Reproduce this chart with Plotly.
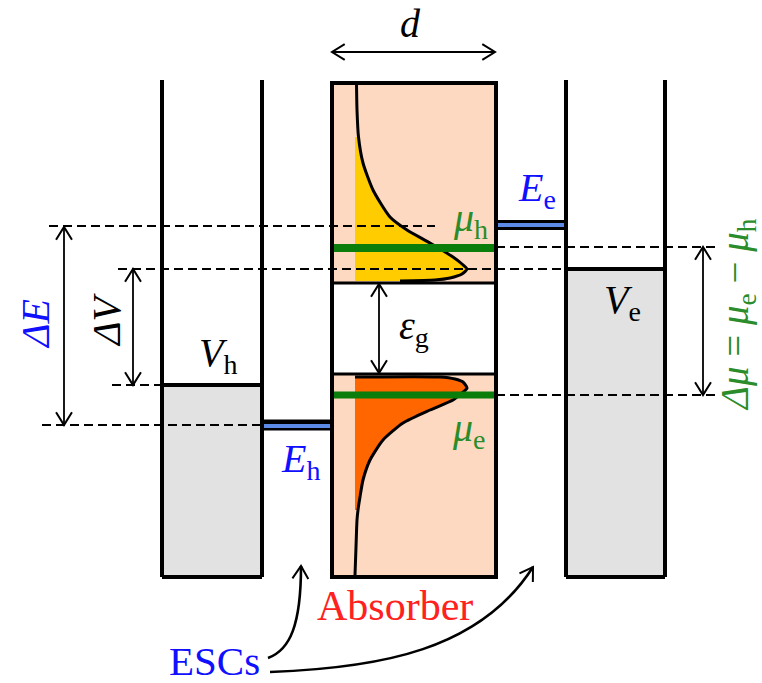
import math
import plotly.graph_objects as go

W, H = 762, 683

# horizontal extents of the three slabs (px)
left_esc = [162, 262]
absorber = [332, 496]
right_esc = [566, 665]
slab_top = 80
slab_bottom = 577
absorber_top = 83
dos_axis_x = 355

# energy levels, drawn downward on screen (px)
E_e = 225
mu_h = 248
V_e = 269
gap_top = 283
gap_bottom = 374
V_h = 385
mu_e = 395
E_h = 425

# hole density of states (upper band of the absorber)
hole_dos_y = [83, 110, 137, 163, 190, 217, 230, 243, 257, 264, 269, 274, 278, 280, 281]
hole_dos_x = [356.5, 357, 358.5, 363, 373, 390, 407, 430, 453, 462, 467, 462, 450, 435, 400]
hole_fill_from = 137

# electron density of states (lower band of the absorber)
elec_dos_y = [377, 377, 379, 382, 388, 393, 400, 410, 423, 440, 460, 480, 497, 510, 520, 547, 575]
elec_dos_x = [355, 440, 455, 463, 467, 462, 453, 430, 403, 383, 370, 363, 360, 358, 357, 356, 355]
elec_fill_to = 510

# colours
PEACH = "#FDD9C1"
GRAY = "#E2E2E2"
YELLOW = "#FFCC00"
ORANGE = "#FF6600"
GREEN_LINE = "#0A7D0A"
GREEN_TEXT = "#2A8C2A"
BAR_BLUE = "#5B8BE6"
TEXT_BLUE = "#1010FF"
RED = "#FF2020"
FONT = "Liberation Serif"

fig = go.Figure()
shapes = []


def rect(x0, x1, y0, y1, color):
    shapes.append(dict(type="rect", x0=x0, x1=x1, y0=y0, y1=y1,
                       fillcolor=color, line=dict(width=0), layer="below"))


def line(x0, y0, x1, y1, width=4, color="black", dash=None):
    ln = dict(width=width, color=color)
    if dash:
        ln["dash"] = dash
    shapes.append(dict(type="line", x0=x0, y0=y0, x1=x1, y1=y1, line=ln))


def chevron(tx, ty, dx, dy, length=15, half=32):
    # open arrowhead with its tip at (tx, ty) pointing along (dx, dy)
    n = math.hypot(dx, dy)
    ux, uy = dx / n, dy / n
    pts = []
    for s in (-1, 1):
        a = math.radians(half) * s
        bx = -(ux * math.cos(a) - uy * math.sin(a))
        by = -(ux * math.sin(a) + uy * math.cos(a))
        pts.append((tx + bx * length, ty + by * length))
    path = f"M {pts[0][0]:.2f},{pts[0][1]:.2f} L {tx:.2f},{ty:.2f} L {pts[1][0]:.2f},{pts[1][1]:.2f}"
    shapes.append(dict(type="path", path=path, line=dict(width=2, color="black")))


def double_arrow(x0, y0, x1, y1):
    line(x0, y0, x1, y1, width=1.8)
    chevron(x0, y0, x0 - x1, y0 - y1)
    chevron(x1, y1, x1 - x0, y1 - y0)


# background fills
rect(absorber[0], absorber[1], absorber_top, slab_bottom, PEACH)
rect(absorber[0], absorber[1], gap_top, gap_bottom, "white")
rect(left_esc[0], left_esc[1], V_h, slab_bottom, GRAY)
rect(right_esc[0], right_esc[1], V_e, slab_bottom, GRAY)

# occupied states
hy = [y for y in hole_dos_y if y >= hole_fill_from]
hx = [x for x, y in zip(hole_dos_x, hole_dos_y) if y >= hole_fill_from]
fig.add_trace(go.Scatter(x=[dos_axis_x] + hx + [dos_axis_x], y=[hole_fill_from] + hy + [hy[-1]],
                         fill="toself", fillcolor=YELLOW, mode="none", hoverinfo="skip"))
ey = [y for y in elec_dos_y if y <= elec_fill_to]
ex = [x for x, y in zip(elec_dos_x, elec_dos_y) if y <= elec_fill_to]
fig.add_trace(go.Scatter(x=[dos_axis_x] + ex + [dos_axis_x], y=[ey[0]] + ey + [elec_fill_to],
                         fill="toself", fillcolor=ORANGE, mode="none", hoverinfo="skip"))

# density-of-states curves
for xs, ys in ((hole_dos_x, hole_dos_y), (elec_dos_x, elec_dos_y)):
    fig.add_trace(go.Scatter(x=xs, y=ys, mode="lines",
                             line=dict(color="black", width=3, shape="spline", smoothing=0.6),
                             hoverinfo="skip"))

# dashed reference levels
DASH = "9px,5px"
line(49, E_e + 1, 435, E_e + 1, width=2, dash=DASH)
line(118, V_e, right_esc[0], V_e, width=2, dash=DASH)
line(absorber[1], mu_h - 1, 717, mu_h - 1, width=2, dash=DASH)
line(absorber[1], mu_e, 717, mu_e, width=2, dash=DASH)
line(112, V_h, left_esc[0], V_h, width=2, dash=DASH)
line(42, E_h, left_esc[1], E_h, width=2, dash=DASH)

# quasi-Fermi levels
line(absorber[0], mu_h, absorber[1], mu_h, width=8, color=GREEN_LINE)
line(absorber[0], mu_e, absorber[1], mu_e, width=7, color=GREEN_LINE)

# contact levels in the gaps between slabs
line(absorber[1], E_e, right_esc[0], E_e, width=10)
line(absorber[1] + 2, E_e, right_esc[0] - 2, E_e, width=4, color=BAR_BLUE)
line(left_esc[1], E_h, absorber[0], E_h, width=11)
line(left_esc[1] + 2, E_h + 1, absorber[0] - 2, E_h + 1, width=4, color=BAR_BLUE)

# slab outlines
for x in left_esc + right_esc:
    line(x, slab_top, x, slab_bottom, width=4)
line(left_esc[0], slab_bottom, left_esc[1], slab_bottom, width=4)
line(right_esc[0], slab_bottom, right_esc[1], slab_bottom, width=4)
line(left_esc[0], V_h, left_esc[1], V_h, width=4)
line(right_esc[0], V_e, right_esc[1], V_e, width=4)
shapes.append(dict(type="rect", x0=absorber[0], x1=absorber[1], y0=absorber_top, y1=slab_bottom,
                   line=dict(width=4, color="black")))
line(absorber[0], gap_top, absorber[1], gap_top, width=3)
line(absorber[0], gap_bottom, absorber[1], gap_bottom, width=3)

# dimension arrows
double_arrow(64, E_e + 2, 64, E_h)
double_arrow(133, V_e, 133, V_h)
double_arrow(379, gap_top + 1, 379, gap_bottom - 1)
double_arrow(703, mu_h - 1, 703, mu_e)
double_arrow(absorber[0], 52, absorber[1] - 1, 52)

# curved pointers from the ESCs label
shapes.append(dict(type="path", path="M 268,658 C 290,650 301,625 301,566",
                   line=dict(width=2.6, color="black")))
chevron(301, 566, 0.05, -1)
shapes.append(dict(type="path", path="M 270,672 C 380,668 480,650 533,567",
                   line=dict(width=2.6, color="black")))
chevron(533, 567, 53, -83)

fig.update_layout(shapes=shapes)

ann = []


def label(x, y, text, color="black", size=40, angle=0):
    ann.append(dict(x=x, y=y, text=text, showarrow=False, textangle=angle,
                    font=dict(family=FONT, size=size, color=color),
                    xanchor="center", yanchor="middle"))


label(410, 23, "<i>d</i>")
label(537, 190, "<i>E</i><sub>e</sub>", TEXT_BLUE)
label(470, 220, "<i>μ</i><sub>h</sub>", GREEN_TEXT)
label(218, 355, "<i>V</i><sub>h</sub>")
label(622, 302, "<i>V</i><sub>e</sub>")
label(300, 461, "<i>E</i><sub>h</sub>", TEXT_BLUE)
label(469, 430, "<i>μ</i><sub>e</sub>", GREEN_TEXT)
label(414, 328, "<i>ε</i><sub>g</sub>")
label(35, 324, "<i>ΔE</i>", TEXT_BLUE, angle=-90)
label(106, 320, "<i>ΔV</i>", angle=-90)
label(737, 315, "<i>Δμ</i> = <i>μ</i><sub>e</sub> − <i>μ</i><sub>h</sub>", GREEN_TEXT, size=39, angle=-90)
label(395, 606, "Absorber", RED, size=42)
label(214, 661, "ESCs", TEXT_BLUE, size=41)

fig.update_layout(
    annotations=ann,
    width=W, height=H,
    margin=dict(l=0, r=0, t=0, b=0),
    paper_bgcolor="white", plot_bgcolor="white",
    showlegend=False,
    xaxis=dict(range=[0, W], visible=False, fixedrange=True),
    yaxis=dict(range=[H, 0], visible=False, fixedrange=True),
)

fig.write_html("out.html")
